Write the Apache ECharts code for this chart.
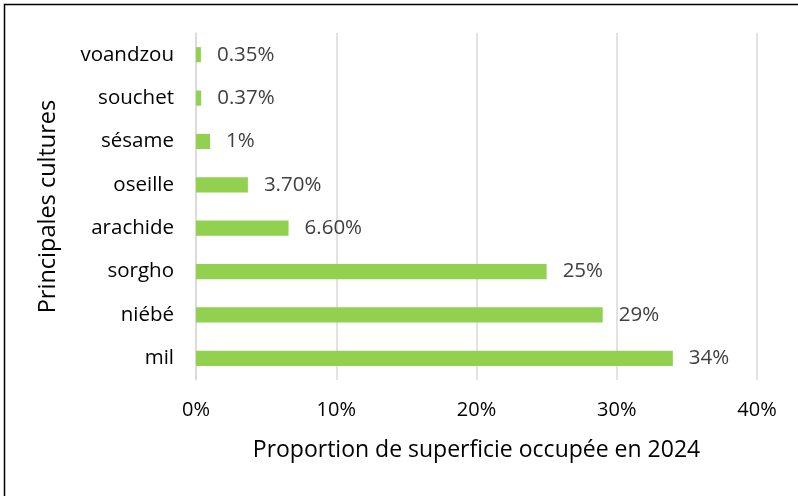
<!DOCTYPE html>
<html><head><meta charset="utf-8">
<script src="https://cdn.jsdelivr.net/npm/echarts@6/dist/echarts.min.js"></script>
<style>html,body{margin:0;padding:0;background:#fff}#c{width:798px;height:496px}</style>
</head><body><div id="c"></div>
<script>
const categories = ['mil','niébé','sorgho','arachide','oseille','sésame','souchet','voandzou'];
const values = [34, 29, 25, 6.6, 3.7, 1, 0.37, 0.35];
const valueLabels = ['34%','29%','25%','6.60%','3.70%','1%','0.37%','0.35%'];
const xTicks = [0, 10, 20, 30, 40];
const xTitle = 'Proportion de superficie occupée en 2024';
const yTitle = 'Principales cultures';

const FONT = 'Open Sans';
const chart = echarts.init(document.getElementById('c'), null, {renderer:'canvas'});
chart.setOption({
  animation: false,
  backgroundColor: '#fff',
  graphic: [{
    type: 'rect', shape: {x: 4.5, y: 4.5, width: 900, height: 900},
    style: {fill: 'none', stroke: '#000', lineWidth: 1.5}, silent: true
  }],
  grid: {left: 196, right: 41, top: 33, bottom: 116},
  xAxis: {
    type: 'value', min: xTicks[0], max: xTicks[xTicks.length-1], interval: 10,
    axisLine: {show: false}, axisTick: {show: false},
    splitLine: {lineStyle: {color: '#d9d9d9', width: 1.5}},
    axisLabel: {formatter: v => v + '%', color: '#000', fontFamily: FONT, fontSize: 20, margin: 20},
    name: xTitle, nameLocation: 'middle', nameGap: 59,
    nameTextStyle: {color: '#000', fontFamily: FONT, fontSize: 23}
  },
  yAxis: {
    type: 'category', data: categories,
    axisLine: {show: true, lineStyle: {color: '#d9d9d9', width: 1.5}},
    axisTick: {show: false},
    axisLabel: {color: '#000', fontFamily: FONT, fontSize: 20.5, margin: 22},
    name: yTitle, nameLocation: 'middle', nameGap: 136, nameRotate: 90,
    nameTextStyle: {color: '#000', fontFamily: FONT, fontSize: 23.5}
  },
  series: [{
    type: 'bar', data: values, barWidth: '35%',
    itemStyle: {color: '#92d050'},
    label: {show: true, position: 'right', distance: 16,
      formatter: p => valueLabels[p.dataIndex],
      color: '#404040', fontFamily: FONT, fontSize: 20.5}
  }]
});
</script></body></html>
